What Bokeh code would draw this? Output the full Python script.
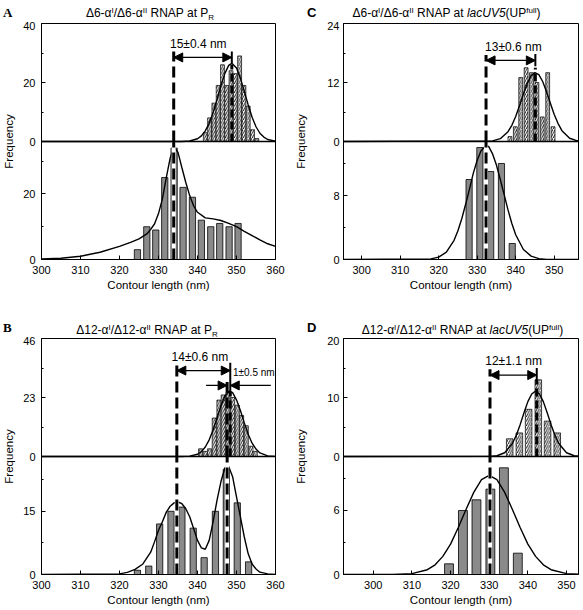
import math
from bokeh.plotting import figure
from bokeh.models import (Range1d, LinearAxis, FixedTicker, CustomJSTickFormatter,
                          Label, Arrow, NormalHead, Span, Div)
from bokeh.layouts import row, column
from bokeh.embed import file_html
from bokeh.resources import INLINE

# ---------------- data ----------------
# Panel A  (Δ6-αI/Δ6-αII RNAP at PR)
A_up_nm = [342.0, 343.1, 344.2, 345.3, 346.4, 347.5, 348.6, 349.7, 350.8, 351.9, 353.0, 354.1, 355.2]
A_up_n = [3, 8, 13, 19, 26, 19, 24, 23, 29, 19, 12, 4, 1]
A_lo_nm = [324.6, 327.0, 329.3, 331.6, 334.0, 336.3, 338.7, 341.0, 343.4, 345.7, 348.1, 350.4]
A_lo_n = [3, 10, 9, 25, 34, 22, 19, 12, 10, 11, 10, 11]
A_up_fit_nm = [300, 336, 338, 340, 341, 342, 343, 344, 345, 346, 347, 348, 348.8, 350, 351, 352, 353, 354, 355, 356, 357, 358, 360]
A_up_fit_f = [0, 0.02, 0.17, 0.93, 1.9, 3.6, 6.2, 9.8, 14.2, 18.9, 23.0, 25.8, 26.5, 24.9, 21.5, 17.0, 12.4, 8.2, 5.0, 2.8, 1.5, 0.68, 0.12]
A_lo_fit_nm = [300, 305, 310, 315, 320, 323, 325, 327, 328, 329, 330, 331, 332, 333, 334, 335, 336, 337, 338, 339, 340, 342, 344, 346, 348, 350, 352, 354, 356, 358, 360]
A_lo_fit_f = [0.2, 0.4, 1.0, 2.2, 4.0, 5.3, 6.3, 7.8, 9.2, 10.9, 14.0, 18.5, 25.0, 31.0, 34.4, 32.7, 28.0, 23.5, 19.5, 16.4, 14.4, 12.7, 12.4, 11.9, 11.0, 10.0, 8.6, 7.3, 6.0, 4.8, 4.0]
A_peaks_lo = [333.9]
A_peak_up = 348.8
A_x_ticks = [300, 310, 320, 330, 340, 350, 360]
A_up_ticks = [0, 20, 40]
A_up_minor = [10, 30]
A_lo_ticks = [0, 20]
A_lo_minor = [10, 30]

# Panel B  (Δ12-αI/Δ12-αII RNAP at PR)
B_up_nm = [340.8, 342.0, 343.1, 344.3, 345.5, 346.6, 347.8, 349.0, 350.2, 351.3, 352.5, 353.7, 354.8]
B_up_n = [3, 2, 3, 15, 22, 24, 25, 23, 20, 16, 12, 4, 2]
B_lo_nm = [324.6, 327.5, 330.3, 333.2, 336.0, 338.9, 341.7, 344.6, 347.4, 350.2, 353.1]
B_lo_n = [1, 2, 12, 15, 16, 11, 4, 15, 25, 17, 3]
B_up_fit_nm = [300, 336, 338, 340, 341, 342, 343, 344, 345, 346, 347, 348, 348.3, 349, 350, 351, 352, 353, 354, 355, 356, 358, 360]
B_up_fit_f = [0, 0.01, 0.14, 0.88, 1.9, 3.7, 6.5, 10.3, 15.0, 19.7, 23.5, 25.4, 25.5, 24.9, 22.1, 17.9, 13.1, 8.7, 5.2, 2.9, 1.4, 0.26, 0.03]
B_lo_fit_nm = [300, 320, 322, 324, 326, 328, 329, 330, 331, 332, 333, 334, 335, 336, 337, 338, 339, 340, 341, 342,
               343, 344, 345, 346, 347, 347.7, 348, 349, 350, 351, 352, 353, 354, 355, 356, 358, 360]
B_lo_fit_f = [0, 0.15, 0.5, 1.2, 2.5, 5.3, 7.8, 10.5, 12.5, 14.8, 16.2, 17.0, 17.2, 16.8, 15.6, 13.7, 10.9, 8.1, 6.3, 6.0,
              8.1, 12.5, 17.6, 22.0, 25.2, 26.0, 25.6, 23.2, 18.4, 13.7, 8.9, 4.9, 2.5, 1.3, 0.55, 0.15, 0]
B_peaks_lo = [334.7, 347.6]
B_peak_up = 348.4
B_x_ticks = [300, 310, 320, 330, 340, 350, 360]
B_up_ticks = [0, 23, 46]
B_up_minor = [11.5, 34.5]
B_lo_ticks = [0, 15]
B_lo_minor = [7.5, 22.5]

# Panel C  (Δ6-αI/Δ6-αII RNAP at lacUV5(UPfull))
C_up_nm = [338.5, 339.9, 341.3, 342.7, 344.1, 345.5, 346.9, 348.3, 349.7]
C_up_n = [1, 3, 13, 15, 14, 12, 5, 14, 3]
C_lo_nm = [327.9, 330.7, 333.5, 336.3, 339.1]
C_lo_n = [10, 14, 11, 12, 2]
C_up_fit_nm = [295, 334, 336, 338, 339, 340, 341, 342, 343, 344, 345, 346, 347, 348, 349, 350, 351, 352, 354, 356, 357]
C_up_fit_f = [0, 0.12, 0.57, 2.0, 3.3, 5.1, 7.3, 9.7, 11.8, 13.4, 14.0, 13.6, 12.2, 10.1, 7.8, 5.5, 3.65, 2.2, 0.66, 0.14, 0.05]
C_lo_fit_nm = [295, 318, 320, 322, 324, 325, 326, 327, 328, 329, 330, 331, 332.3, 333, 334, 335, 336, 337, 338, 339, 340, 342, 344, 346, 348, 357]
C_lo_fit_f = [0, 0.07, 0.29, 0.92, 2.4, 3.6, 5.1, 6.9, 8.8, 10.8, 12.4, 13.6, 14.25, 14.1, 13.2, 11.8, 10.0, 8.1, 6.2, 4.5, 3.1, 1.25, 0.42, 0.11, 0.02, 0]
C_peaks_lo = [332.3]
C_peak_up = 345.1
C_x_ticks = [300, 310, 320, 330, 340, 350]
C_up_ticks = [0, 12, 24]
C_up_minor = [6, 18]
C_lo_ticks = [0, 8]
C_lo_minor = [4, 12]

# Panel D  (Δ12-αI/Δ12-αII RNAP at lacUV5(UPfull))
D_up_nm = [335.3, 337.8, 340.2, 342.7, 345.1, 347.6]
D_up_n = [3, 4, 8, 13, 6, 4]
D_lo_nm = [319.6, 323.2, 326.7, 330.3, 333.8, 337.4]
D_lo_n = [1, 6, 7, 8, 10, 2]
D_up_fit_nm = [292, 330, 332, 334, 336, 337, 338, 339, 340, 341, 342, 343, 344, 345, 346, 347, 348, 350, 352, 354]
D_up_fit_f = [0, 0.02, 0.13, 0.64, 2.2, 3.6, 5.4, 7.4, 9.3, 10.6, 11.1, 10.6, 9.3, 7.4, 5.4, 3.6, 2.2, 0.64, 0.13, 0.02]
D_lo_fit_nm = [292, 305, 310, 314, 316, 318, 320, 322, 324, 326, 328, 330, 332, 334, 336, 338, 340, 342, 344, 346, 350, 354]
D_lo_fit_f = [0, 0.01, 0.08, 0.45, 0.91, 1.7, 2.85, 4.4, 6.1, 7.7, 8.9, 9.3, 8.9, 7.7, 6.1, 4.4, 2.85, 1.7, 0.91, 0.45, 0.08, 0.01]
D_peaks_lo = [330.2]
D_peak_up = 342.3
D_x_ticks = [300, 310, 320, 330, 340, 350]
D_up_ticks = [0, 10, 20]
D_up_minor = [5, 15]
D_lo_ticks = [0, 6]
D_lo_minor = [3, 9]

X_LABEL = "Contour length (nm)"
Y_LABEL = "Frequency"
TITLE_A = "Δ6-α<sup>I</sup>/Δ6-α<sup>II</sup> RNAP at P<sub>R</sub>"
TITLE_B = "Δ12-α<sup>I</sup>/Δ12-α<sup>II</sup> RNAP at P<sub>R</sub>"
TITLE_C = "Δ6-α<sup>I</sup>/Δ6-α<sup>II</sup> RNAP at <i>lacUV5</i>(UP<sup>full</sup>)"
TITLE_D = "Δ12-α<sup>I</sup>/Δ12-α<sup>II</sup> RNAP at <i>lacUV5</i>(UP<sup>full</sup>)"

# ---------------- styling helpers ----------------
FONT = "Liberation Sans"
TOTAL_W = 582


def style_axis(ax):
    ax.axis_line_color = "black"
    ax.axis_line_width = 1
    ax.major_tick_in = 4
    ax.major_tick_out = 0
    ax.minor_tick_in = 2
    ax.minor_tick_out = 0
    ax.major_tick_line_color = "black"
    ax.minor_tick_line_color = "black"
    ax.major_label_text_font = FONT
    ax.major_label_text_font_size = "11px"
    ax.major_label_text_color = "black"
    ax.axis_label_text_font = FONT
    ax.axis_label_text_font_size = "11.5px"
    ax.axis_label_text_font_style = "normal"
    ax.axis_label_text_color = "black"


def build(cfg):
    T, L = cfg["T"], cfg["L"]
    p = figure(width=cfg["w"], height=cfg["h"], x_range=Range1d(*cfg["xr"]), y_range=Range1d(-T, T),
               min_border_left=cfg["mbl"], min_border_right=cfg["mbr"],
               min_border_top=cfg["mbt"], min_border_bottom=cfg["mbb"],
               toolbar_location=None, output_backend="svg", title=None,
               x_axis_type=None, y_axis_type=None)
    p.extra_y_ranges = {"low": Range1d(0, 2 * L)}
    p.outline_line_color = "black"
    p.outline_line_width = 1
    p.background_fill_color = "white"
    p.border_fill_color = "white"

    def to_top(v):
        return -T + v * T / L

    yt = [to_top(v) for v in cfg["lo_ticks"]] + list(cfg["up_ticks"])
    ym = [to_top(v) for v in cfg["lo_minor"]] + list(cfg["up_minor"])
    fmt = CustomJSTickFormatter(args=dict(T=T, L=L), code="""
        if (tick > -1e-6) { return String(Math.round(tick)); }
        return String(Math.round((tick + T) * L / T));
    """)
    yax = LinearAxis(ticker=FixedTicker(ticks=yt, minor_ticks=ym), formatter=fmt, axis_label=Y_LABEL)
    style_axis(yax)
    yax.major_label_standoff = cfg["ytick_standoff"]
    yax.axis_label_standoff = cfg["ylab_standoff"]
    p.add_layout(yax, "left")
    xax = LinearAxis(ticker=FixedTicker(ticks=cfg["x_ticks"], minor_ticks=[]), axis_label=X_LABEL)
    style_axis(xax)
    xax.major_label_standoff = 6
    xax.axis_label_standoff = 2
    p.add_layout(xax, "below")

    # lower histogram (grey bars) + fit
    p.vbar(x=cfg["lo_nm"], top=cfg["lo_n"], bottom=0, width=cfg["lo_w"], fill_color="#8a8a8a",
           line_color="black", line_width=0.8, y_range_name="low")
    p.line(cfg["lo_fit_nm"], cfg["lo_fit_f"], line_color="black", line_width=1.4, y_range_name="low")
    # upper histogram (hatched bars) + fit
    p.vbar(x=cfg["up_nm"], top=cfg["up_n"], bottom=0, width=cfg["up_w"], fill_color="white",
           line_color="black", line_width=0.7, hatch_pattern="/", hatch_color="black",
           hatch_scale=4.5, hatch_weight=0.9)
    p.line(cfg["up_fit_nm"], cfg["up_fit_f"], line_color="black", line_width=1.4)
    p.add_layout(Span(location=0, dimension="width", line_color="black", line_width=1.3))

    # dashed lines at the lower-histogram peaks, spanning both halves
    for xp, top in zip(cfg["peaks_lo"], cfg["span_tops"]):
        p.segment(x0=[xp], y0=[0], x1=[xp], y1=[L], line_color="white", line_width=4, y_range_name="low")
        p.segment(x0=[xp], y0=[0], x1=[xp], y1=[L], line_color="black", line_width=3,
                  line_dash="11 5", y_range_name="low")
        p.segment(x0=[xp], y0=[0], x1=[xp], y1=[top], line_color="black", line_width=3, line_dash="11 5")
    # dashed line at the upper peak and its marker
    xu = cfg["peak_up"]
    p.segment(x0=[xu], y0=[0], x1=[xu], y1=[cfg["up_dash_top"]], line_color="black", line_width=3,
              line_dash="8 4")
    p.segment(x0=[xu], y0=[cfg["tick_span"][0]], x1=[xu], y1=[cfg["tick_span"][1]],
              line_color="black", line_width=2)
    # distance arrow
    ay = cfg["arrow_y"]
    p.add_layout(Arrow(x_start=cfg["peaks_lo"][0], y_start=ay, x_end=xu, y_end=ay,
                       start=NormalHead(size=9, fill_color="black", line_color="black"),
                       end=NormalHead(size=9, fill_color="black", line_color="black"),
                       line_color="black", line_width=1.3))
    p.add_layout(Label(x=cfg["dist_xy"][0], y=cfg["dist_xy"][1], text=cfg["dist_text"],
                       text_font=FONT, text_font_size="12px", text_align="center",
                       text_baseline="middle", text_color="black"))
    for (x0, x1, yy) in cfg.get("small_arrows", []):
        p.add_layout(Arrow(x_start=x0, y_start=yy, x_end=x1, y_end=yy, start=None,
                           end=NormalHead(size=9, fill_color="black", line_color="black"),
                           line_color="black", line_width=1.3))
    if "extra_text" in cfg:
        t, tx, ty = cfg["extra_text"]
        p.add_layout(Label(x=tx, y=ty, text=t, text_font=FONT, text_font_size="10px",
                           text_align="left", text_baseline="middle", text_color="black"))
    return p


def title_div(height, items):
    # items: (content, left_px, top_px, kind); baseline sits ~0.85 em below 'top'
    spans = []
    for content, left, top, kind in items:
        if kind == "letter":
            text, font = content
            st = ("position:absolute;left:%.1fpx;top:%.1fpx;font-weight:bold;font-size:13px;"
                  "line-height:1;font-family:'%s';white-space:nowrap;" % (left, top, font))
            spans.append('<span style="%s">%s</span>' % (st, text))
        else:
            st = ("position:absolute;left:%.1fpx;top:%.1fpx;transform:translateX(-50%%);font-size:12px;"
                  "line-height:1;font-family:'%s';white-space:nowrap;" % (left, top, FONT))
            spans.append('<span style="%s">%s</span>' % (st, content))
    css = ("<style>sup{font-size:8px;line-height:0;vertical-align:4.5px;}"
           "sub{font-size:8px;line-height:0;vertical-align:-3px;}</style>")
    body = ('<div style="position:relative;width:%dpx;height:%dpx;color:black;overflow:visible;">%s</div>'
            % (TOTAL_W, height, "".join(spans)))
    return Div(text=css + body, width=TOTAL_W, height=height, margin=0, styles={"overflow": "visible"})


left_geo = dict(w=292, mbl=38, mbr=17, ytick_standoff=6, ylab_standoff=5)
right_geo = dict(w=TOTAL_W - 292, mbl=48, mbr=TOTAL_W - 292 - 48 - 238, ytick_standoff=4, ylab_standoff=17)
row1 = dict(h=282, mbt=2, mbb=44)
row2 = dict(h=273, mbt=2, mbb=35)

cfgA = dict(left_geo, **row1, xr=(300, 360), T=40, L=36, x_ticks=A_x_ticks,
            up_ticks=A_up_ticks, up_minor=A_up_minor, lo_ticks=A_lo_ticks, lo_minor=A_lo_minor,
            up_nm=A_up_nm, up_n=A_up_n, up_w=1.0, lo_nm=A_lo_nm, lo_n=A_lo_n, lo_w=1.6,
            up_fit_nm=A_up_fit_nm, up_fit_f=A_up_fit_f, lo_fit_nm=A_lo_fit_nm, lo_fit_f=A_lo_fit_f,
            peaks_lo=A_peaks_lo, span_tops=[30.5], peak_up=A_peak_up, up_dash_top=26.0,
            tick_span=(26.5, 30.5), arrow_y=28.5, dist_text="15±0.4 nm", dist_xy=(340.2, 33.2))
cfgB = dict(left_geo, **row2, xr=(300, 360), T=46, L=28, x_ticks=B_x_ticks,
            up_ticks=B_up_ticks, up_minor=B_up_minor, lo_ticks=B_lo_ticks, lo_minor=B_lo_minor,
            up_nm=B_up_nm, up_n=B_up_n, up_w=1.05, lo_nm=B_lo_nm, lo_n=B_lo_n, lo_w=1.6,
            up_fit_nm=B_up_fit_nm, up_fit_f=B_up_fit_f, lo_fit_nm=B_lo_fit_nm, lo_fit_f=B_lo_fit_f,
            peaks_lo=B_peaks_lo, span_tops=[35.5, 29.0], peak_up=B_peak_up, up_dash_top=25.0,
            tick_span=(24.0, 36.5), arrow_y=33.5, dist_text="14±0.6 nm", dist_xy=(340.6, 38.8),
            small_arrows=[(342.2, 347.6, 27.7), (358.8, 348.4, 27.7)],
            extra_text=("1±0.5 nm", 349.1, 32.8))
cfgC = dict(right_geo, **row1, xr=(295.3, 356.3), T=24, L=14.75, x_ticks=C_x_ticks,
            up_ticks=C_up_ticks, up_minor=C_up_minor, lo_ticks=C_lo_ticks, lo_minor=C_lo_minor,
            up_nm=C_up_nm, up_n=C_up_n, up_w=1.0, lo_nm=C_lo_nm, lo_n=C_lo_n, lo_w=1.6,
            up_fit_nm=C_up_fit_nm, up_fit_f=C_up_fit_f, lo_fit_nm=C_lo_fit_nm, lo_fit_f=C_lo_fit_f,
            peaks_lo=C_peaks_lo, span_tops=[17.6], peak_up=C_peak_up, up_dash_top=15.0,
            tick_span=(15.3, 17.8), arrow_y=16.5, dist_text="13±0.6 nm", dist_xy=(339.4, 19.3))
cfgD = dict(right_geo, **row2, xr=(292.3, 353.1), T=20, L=11.06, x_ticks=D_x_ticks,
            up_ticks=D_up_ticks, up_minor=D_up_minor, lo_ticks=D_lo_ticks, lo_minor=D_lo_minor,
            up_nm=D_up_nm, up_n=D_up_n, up_w=1.7, lo_nm=D_lo_nm, lo_n=D_lo_n, lo_w=2.3,
            up_fit_nm=D_up_fit_nm, up_fit_f=D_up_fit_f, lo_fit_nm=D_lo_fit_nm, lo_fit_f=D_lo_fit_f,
            peaks_lo=D_peaks_lo, span_tops=[14.8], peak_up=D_peak_up, up_dash_top=13.0,
            tick_span=(12.4, 15.0), arrow_y=13.8, dist_text="12±1.1 nm", dist_xy=(336.3, 16.2))

pA, pB, pC, pD = build(cfgA), build(cfgB), build(cfgC), build(cfgD)

# title rows: Div 1 covers y 0-21, Div 2 covers y 303-336 of the page
div1 = title_div(21, [(("A", "Liberation Serif"), 3, 5.8, "letter"), (TITLE_A, 150, 7.1, "title"),
                      (("C", FONT), 307, 5.7, "letter"), (TITLE_C, 446.5, 7.1, "title")])
div2 = title_div(33, [(("B", "Liberation Serif"), 3, 17.8, "letter"), (TITLE_B, 147, 20.8, "title"),
                      (("D", FONT), 307, 17.7, "letter"), (TITLE_D, 462.5, 20.8, "title")])

layout = column(div1, row(pA, pC), div2, row(pB, pD))
open("out.html", "w").write(file_html(layout, INLINE))
